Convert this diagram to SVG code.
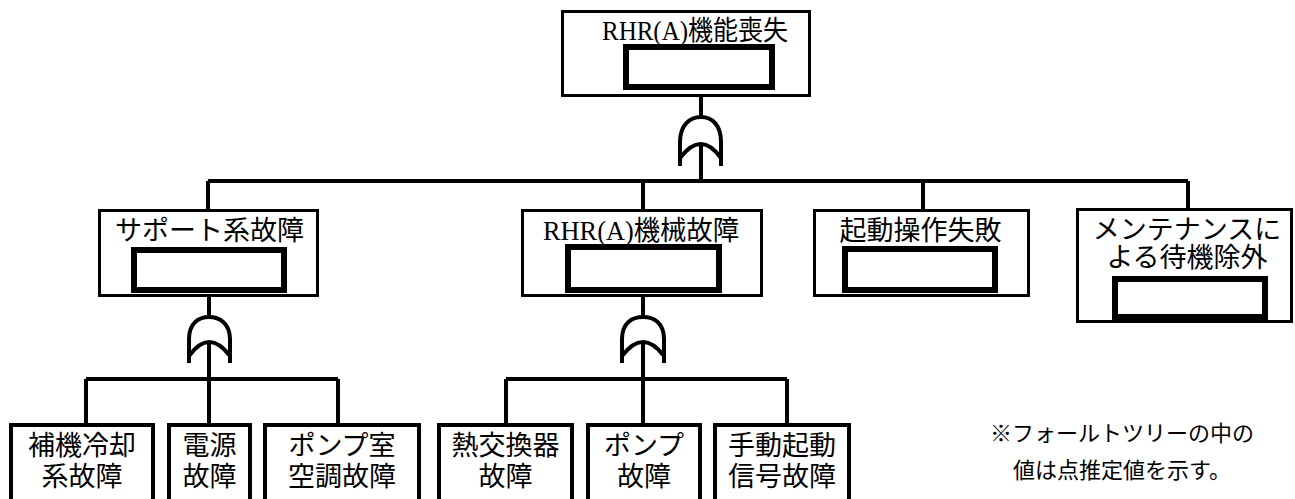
<svg xmlns="http://www.w3.org/2000/svg" width="1295" height="499" viewBox="0 0 1295 499">
<style>
.box{fill:#fff;stroke:#000;stroke-width:3}
.bbox{fill:#fff;stroke:#000;stroke-width:4}
.val{fill:#fff;stroke:#000;stroke-width:6}
.ln{fill:none;stroke:#000;stroke-width:4}
.gate{fill:none;stroke:#000;stroke-width:4}
text{font-family:"Liberation Serif","Noto Sans CJK JP",serif;fill:#000;text-anchor:middle}
.t{font-size:27px}
.n{font-size:22px}
</style>
<rect width="1295" height="499" fill="#fff"/>
<g id="connectors">
<path class="ln" d="M701,97 V117 M701,144 V181 M208,181 H1188 M208,181 V209 M643,181 V209 M923,181 V209 M1188,181 V208"/>
<path class="ln" d="M209,297 V317 M209,344 V379 M86,379 H338 M86,379 V424 M209,379 V424 M338,379 V424"/>
<path class="ln" d="M643,297 V317 M643,344 V379 M506,379 H787 M506,379 V424 M643,379 V424 M787,379 V424"/>
</g>
<g id="gate-top" class="gate">
<path d="M680,166 V142 C680,125 690,117 701,117 C712,117 721,125 721,142 V166"/>
<path d="M680,158 Q701,130 721,158"/>
</g>
<g id="gate-support" class="gate">
<path d="M189,363 V339 C189,323 199,317 209,317 C219,317 230,323 230,339 V363"/>
<path d="M189,356 Q209,328 230,356"/>
</g>
<g id="gate-mech" class="gate">
<path d="M622,363 V339 C622,323 632,317 643,317 C654,317 664,323 664,339 V363"/>
<path d="M622,356 Q643,328 664,356"/>
</g>
<g id="node-top">
<rect class="box" x="562.5" y="11.5" width="247" height="84"/>
<text class="t" x="695" y="40" font-size="26" textLength="186" lengthAdjust="spacingAndGlyphs">RHR(A)機能喪失</text>
<rect class="val" x="626" y="47" width="146" height="40"/>
</g>
<g id="node-support">
<rect class="box" x="99.5" y="210.5" width="218" height="85"/>
<text class="t" x="209.5" y="240">サポート系故障</text>
<rect class="val" x="134" y="250" width="150" height="40"/>
</g>
<g id="node-mech">
<rect class="box" x="522.5" y="210.5" width="239" height="85"/>
<text class="t" x="641" y="240" textLength="196" lengthAdjust="spacingAndGlyphs">RHR(A)機械故障</text>
<rect class="val" x="568" y="247" width="151" height="43"/>
</g>
<g id="node-start">
<rect class="box" x="814.5" y="210.5" width="214" height="85"/>
<text class="t" x="920.5" y="240">起動操作失敗</text>
<rect class="val" x="845" y="249" width="150" height="41"/>
</g>
<g id="node-maint">
<rect class="box" x="1077.5" y="209.5" width="214" height="112"/>
<text class="t" x="1187" y="239">メンテナンスに</text>
<text class="t" x="1187" y="267">よる待機除外</text>
<rect class="val" x="1115" y="279" width="150" height="38"/>
</g>
<g id="node-ccw">
<rect class="bbox" x="11" y="425" width="142" height="80"/>
<text class="t" x="82" y="455">補機冷却</text>
<text class="t" x="82" y="486">系故障</text>
</g>
<g id="node-power">
<rect class="bbox" x="169" y="425" width="81" height="80"/>
<text class="t" x="209.5" y="455">電源</text>
<text class="t" x="209.5" y="486">故障</text>
</g>
<g id="node-hvac">
<rect class="bbox" x="265" y="425" width="154" height="80"/>
<text class="t" x="342" y="455">ポンプ室</text>
<text class="t" x="342" y="486">空調故障</text>
</g>
<g id="node-hx">
<rect class="bbox" x="439" y="425" width="133" height="80"/>
<text class="t" x="505.5" y="455">熱交換器</text>
<text class="t" x="505.5" y="486">故障</text>
</g>
<g id="node-pump">
<rect class="bbox" x="588" y="425" width="112" height="80"/>
<text class="t" x="644" y="455">ポンプ</text>
<text class="t" x="644" y="486">故障</text>
</g>
<g id="node-signal">
<rect class="bbox" x="715" y="425" width="134" height="80"/>
<text class="t" x="782" y="455">手動起動</text>
<text class="t" x="782" y="486">信号故障</text>
</g>
<g id="note">
<text class="n" x="1122" y="441">※フォールトツリーの中の</text>
<text class="n" x="1122" y="478">値は点推定値を示す。</text>
</g>
</svg>
